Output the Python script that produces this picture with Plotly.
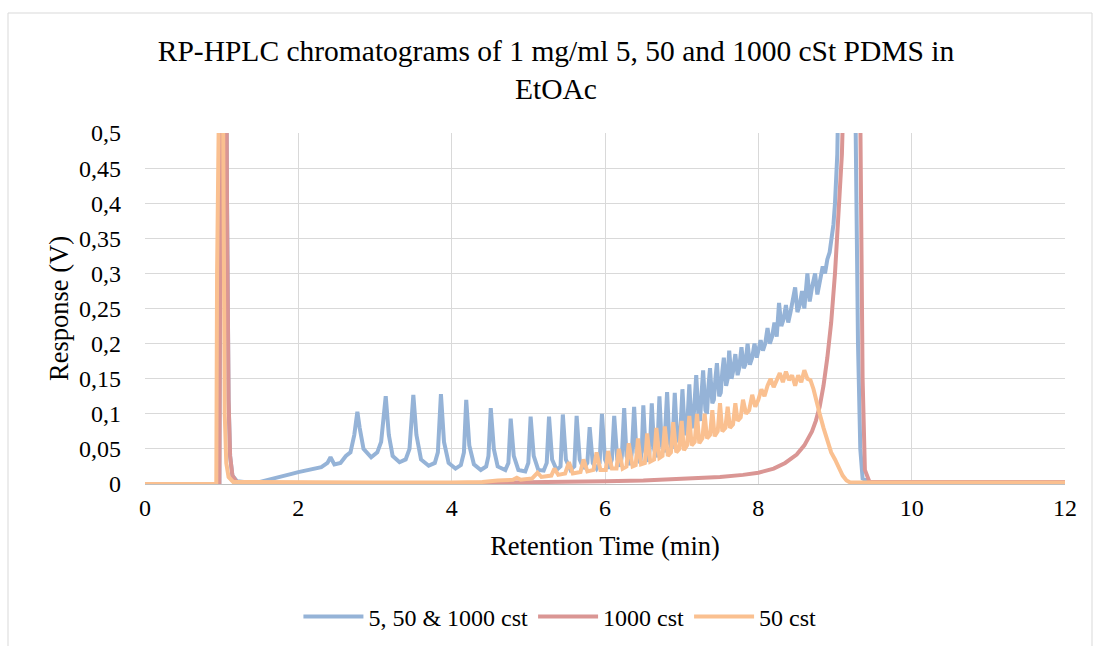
import plotly.graph_objects as go

# ---------------- data ----------------
blue_name = "5, 50 & 1000 cst"
red_name = "1000 cst"
orange_name = "50 cst"

blue_t = [0, 0.9, 0.97, 1.0, 1.05, 1.07, 1.09, 1.11, 1.14, 1.2, 1.35, 1.5, 1.7, 1.9, 2.0, 2.2,
          2.3, 2.38, 2.42, 2.47, 2.55, 2.62, 2.68, 2.73, 2.77, 2.8, 2.85, 2.95, 3.03, 3.08,
          3.14, 3.18, 3.23, 3.32, 3.4, 3.45, 3.5, 3.54, 3.6, 3.7, 3.78, 3.82, 3.86, 3.9,
          3.96, 4.05, 4.12, 4.16, 4.19, 4.23, 4.29, 4.38, 4.45, 4.48, 4.51, 4.55, 4.6, 4.7,
          4.74, 4.77, 4.81, 4.87, 4.96, 5.0, 5.03, 5.07, 5.13, 5.2, 5.24, 5.27, 5.31, 5.37,
          5.42, 5.45, 5.49, 5.55, 5.6, 5.63, 5.67, 5.72, 5.77, 5.8, 5.84, 5.89, 5.93, 5.96,
          6.0, 6.05, 6.09, 6.12, 6.16, 6.2, 6.22, 6.25, 6.28, 6.33, 6.35, 6.38, 6.41, 6.46,
          6.48, 6.5, 6.53, 6.57, 6.59, 6.61, 6.64, 6.67, 6.69, 6.71, 6.74, 6.77, 6.79, 6.81,
          6.84, 6.87, 6.89, 6.91, 6.94, 6.97, 6.99, 7.01, 7.04, 7.06, 7.08, 7.1, 7.13, 7.15,
          7.17, 7.19, 7.22, 7.24, 7.26, 7.28, 7.31, 7.33, 7.35, 7.37, 7.4, 7.42, 7.44, 7.46,
          7.49, 7.51, 7.53, 7.55, 7.58, 7.6, 7.62, 7.65, 7.67, 7.7, 7.73, 7.75, 7.78, 7.81,
          7.83, 7.86, 7.89, 7.92, 7.95, 7.98, 8.0, 8.03, 8.06, 8.09, 8.12, 8.15, 8.18, 8.21,
          8.24, 8.27, 8.3, 8.33, 8.36, 8.39, 8.42, 8.45, 8.48, 8.51, 8.54, 8.57, 8.6, 8.64,
          8.67, 8.7, 8.74, 8.77, 8.8, 8.84, 8.87, 8.9, 8.93, 8.96, 8.98, 9.0, 9.02, 9.03,
          9.05, 9.1, 9.2, 9.27, 9.3, 9.33, 9.36, 9.45, 10, 11, 12]
blue_v = [0, 0, 0, 0.9, 0.9, 0.4, 0.12, 0.04, 0.012, 0.004, 0.002, 0.003, 0.008, 0.014, 0.017, 0.021,
          0.024, 0.03, 0.038, 0.028, 0.03, 0.04, 0.045, 0.07, 0.103, 0.08, 0.05, 0.038, 0.045, 0.06,
          0.125, 0.07, 0.04, 0.031, 0.035, 0.05, 0.127, 0.07, 0.035, 0.026, 0.03, 0.045, 0.128, 0.06,
          0.03, 0.022, 0.027, 0.045, 0.12, 0.055, 0.028, 0.02, 0.025, 0.04, 0.108, 0.05, 0.025, 0.02,
          0.03, 0.093, 0.04, 0.02, 0.018, 0.03, 0.096, 0.04, 0.02, 0.019, 0.03, 0.096, 0.035, 0.02,
          0.025, 0.099, 0.035, 0.02, 0.025, 0.097, 0.035, 0.022, 0.03, 0.081, 0.03, 0.022, 0.03, 0.1,
          0.035, 0.022, 0.035, 0.097, 0.035, 0.025, 0.04, 0.108, 0.04, 0.027, 0.045, 0.11, 0.045, 0.03,
          0.05, 0.112, 0.045, 0.032, 0.06, 0.115, 0.05, 0.038, 0.07, 0.125, 0.055, 0.045, 0.08, 0.131,
          0.06, 0.05, 0.08, 0.13, 0.065, 0.06, 0.09, 0.135, 0.075, 0.07, 0.1, 0.142, 0.08, 0.085,
          0.12, 0.155, 0.095, 0.09, 0.13, 0.162, 0.105, 0.1, 0.14, 0.165, 0.115, 0.12, 0.15, 0.172,
          0.125, 0.13, 0.16, 0.18, 0.14, 0.15, 0.19, 0.15, 0.16, 0.185, 0.155, 0.165, 0.195, 0.165,
          0.17, 0.2, 0.17, 0.18, 0.2, 0.18, 0.19, 0.205, 0.19, 0.2, 0.222, 0.2, 0.21, 0.23,
          0.21, 0.258, 0.225, 0.235, 0.255, 0.23, 0.245, 0.26, 0.28, 0.245, 0.255, 0.275, 0.25, 0.3,
          0.26, 0.28, 0.3, 0.27, 0.29, 0.31, 0.3, 0.32, 0.33, 0.35, 0.37, 0.4, 0.44, 0.47,
          0.6, 0.9, 0.9, 0.5, 0.2, 0.05, 0.008, 0.003, 0.003, 0.003, 0.003]

red_t = [0, 0.9, 0.97, 1.0, 1.05, 1.07, 1.09, 1.11, 1.14, 1.2, 2, 3, 4, 5, 6, 6.5, 7, 7.5, 7.8,
         8.0, 8.2, 8.35, 8.5, 8.6, 8.7, 8.75, 8.8, 8.85, 8.9, 8.95, 9.0, 9.03, 9.06, 9.09,
         9.11, 9.15, 9.3, 9.33, 9.36, 9.39, 9.45, 10, 11, 12]
red_v = [0, 0, 0, 0.9, 0.9, 0.4, 0.12, 0.04, 0.012, 0.002, 0.001, 0.001, 0.001, 0.002, 0.004, 0.005, 0.007, 0.01, 0.013,
         0.016, 0.022, 0.03, 0.042, 0.055, 0.075, 0.09, 0.11, 0.14, 0.18, 0.23, 0.3, 0.35, 0.4, 0.47,
         0.55, 0.9, 0.9, 0.5, 0.15, 0.02, 0.003, 0.003, 0.003, 0.003]

orange_t = [0, 0.93, 0.94, 0.955, 1.0, 1.02, 1.04, 1.06, 1.09, 1.15, 2, 3, 4, 4.4, 4.6, 4.8,
            4.85, 4.9, 5.05, 5.12, 5.17, 5.3, 5.34, 5.39, 5.48, 5.53, 5.58, 5.68, 5.72, 5.77,
            5.85, 5.89, 5.94, 6.01, 6.04, 6.09, 6.15, 6.18, 6.23, 6.28, 6.31, 6.36, 6.4, 6.43,
            6.47, 6.52, 6.55, 6.59, 6.64, 6.67, 6.71, 6.75, 6.78, 6.82, 6.86, 6.89, 6.93, 6.97,
            7.0, 7.03, 7.07, 7.1, 7.13, 7.17, 7.2, 7.23, 7.27, 7.3, 7.33, 7.37, 7.4, 7.43,
            7.47, 7.5, 7.53, 7.57, 7.6, 7.63, 7.67, 7.7, 7.73, 7.77, 7.8, 7.84, 7.88, 7.92,
            7.96, 8.0, 8.04, 8.08, 8.12, 8.16, 8.2, 8.24, 8.28, 8.32, 8.36, 8.4, 8.44, 8.48,
            8.52, 8.56, 8.6, 8.64, 8.68, 8.72, 8.76, 8.8, 8.85, 8.9, 8.95, 9.0, 9.05, 9.1,
            9.15, 9.2, 10, 12]
orange_v = [0, 0, 0.3, 0.9, 0.9, 0.5, 0.1, 0.03, 0.01, 0.003, 0.002, 0.002, 0.002, 0.003, 0.005, 0.006,
            0.009, 0.006, 0.008, 0.016, 0.01, 0.012, 0.022, 0.013, 0.015, 0.031, 0.015, 0.017, 0.035, 0.018,
            0.02, 0.045, 0.02, 0.02, 0.047, 0.022, 0.022, 0.05, 0.022, 0.025, 0.058, 0.025, 0.027, 0.065,
            0.028, 0.03, 0.072, 0.032, 0.035, 0.08, 0.037, 0.04, 0.082, 0.04, 0.045, 0.088, 0.045, 0.05,
            0.09, 0.048, 0.055, 0.097, 0.055, 0.06, 0.1, 0.058, 0.065, 0.1, 0.065, 0.07, 0.105, 0.068,
            0.075, 0.115, 0.075, 0.08, 0.11, 0.08, 0.085, 0.115, 0.09, 0.095, 0.12, 0.1, 0.105, 0.127,
            0.11, 0.12, 0.135, 0.125, 0.14, 0.15, 0.138, 0.15, 0.158, 0.145, 0.16, 0.148, 0.155, 0.14,
            0.155, 0.145, 0.162, 0.15, 0.148, 0.135, 0.12, 0.1, 0.08, 0.063, 0.045, 0.035, 0.022, 0.012,
            0.005, 0.002, 0.002, 0.002]

y_ticks = [0, 0.05, 0.1, 0.15, 0.2, 0.25, 0.3, 0.35, 0.4, 0.45, 0.5]
y_labels = ["0", "0,05", "0,1", "0,15", "0,2", "0,25", "0,3", "0,35", "0,4", "0,45", "0,5"]
x_ticks = [0, 2, 4, 6, 8, 10, 12]

title_text = "RP-HPLC chromatograms of 1 mg/ml 5, 50 and 1000 cSt PDMS in<br>EtOAc"
x_title = "Retention Time (min)"
y_title = "Response (V)"

# ---------------- figure ----------------
FONT = "Liberation Serif"
LW = 4
fig = go.Figure()
fig.add_trace(go.Scatter(x=blue_t, y=blue_v, mode="lines", name=blue_name,
                         line=dict(color="#95B3D7", width=LW)))
fig.add_trace(go.Scatter(x=red_t, y=red_v, mode="lines", name=red_name,
                         line=dict(color="#DA9694", width=LW)))
fig.add_trace(go.Scatter(x=orange_t, y=orange_v, mode="lines", name=orange_name,
                         line=dict(color="#FAC090", width=LW)))

L, R, T, B = 145, 28, 133, 162
W, H = 1093, 646
pw, ph = W - L - R, H - T - B

fig.update_layout(
    width=W, height=H,
    margin=dict(l=L, r=R, t=T, b=B, autoexpand=False),
    paper_bgcolor="white", plot_bgcolor="white",
    font=dict(family=FONT, color="#000000", size=24),
    title=dict(text=title_text, x=556 / W, xanchor="center", xref="container",
               y=1 - 61 / H, yanchor="top",
               font=dict(family=FONT, size=29.5, color="#000000")),
    xaxis=dict(range=[0, 12], tickvals=x_ticks, showgrid=True, gridcolor="#d9d9d9",
               gridwidth=1, zeroline=False, showline=True, linecolor="#bfbfbf", linewidth=1,
               ticks="", tickfont=dict(family=FONT, size=24, color="#000000"),
               ticklabelstandoff=2, automargin=False,
               title=dict(text=x_title, font=dict(family=FONT, size=26.5, color="#000000"),
                          standoff=16)),
    yaxis=dict(range=[0, 0.5], tickvals=y_ticks, ticktext=y_labels, showgrid=True,
               gridcolor="#d9d9d9", gridwidth=1, zeroline=False, showline=False,
               ticks="", tickfont=dict(family=FONT, size=24, color="#000000"),
               ticklabelstandoff=23, automargin=False,
               title=dict(text=y_title, font=dict(family=FONT, size=26.5, color="#000000"),
                          standoff=2)),
    legend=dict(orientation="h", x=0.451, xanchor="center", y=-(617 - 484) / ph,
                yanchor="middle", font=dict(family=FONT, size=24, color="#000000"),
                itemwidth=60, bgcolor="rgba(0,0,0,0)"),
    showlegend=True,
    shapes=[dict(type="rect", xref="paper", yref="paper",
                 x0=(8 - L) / pw, x1=(1092 - L) / pw,
                 y0=-(H + 10 - T - ph) / ph, y1=(T + ph - 13) / ph,
                 line=dict(color="#d9d9d9", width=1), layer="below")],
)

fig.write_html("out.html")
